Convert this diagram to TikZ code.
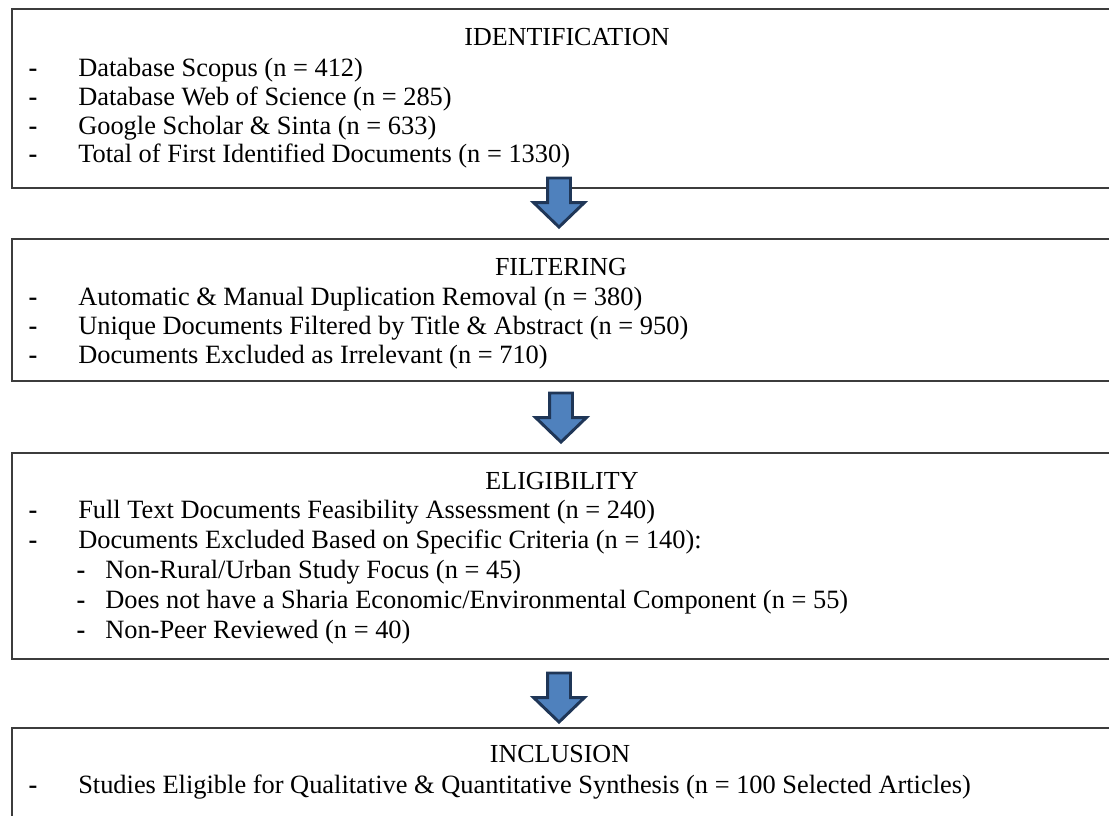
\documentclass[tikz,border=0pt]{standalone}
\usepackage{fontspec}
\setmainfont{Liberation Serif}
\definecolor{arrowblue}{HTML}{4F81BD}
\definecolor{arrownavy}{HTML}{1F3657}
\definecolor{boxline}{HTML}{3C3C3C}
\begin{document}
\begin{tikzpicture}[x=0.75pt,y=-0.75pt,
  stagebox/.style={draw=boxline, line width=1.4pt, fill=white, anchor=north west, inner sep=0pt, minimum width=835.5pt},
  txt/.style={anchor=base west, inner sep=0pt, font=\fontsize{19.8}{23}\selectfont},
  ttl/.style={anchor=base, inner sep=0pt, font=\fontsize{19.5}{23}\selectfont},
  dsh/.style={anchor=base, inner sep=0pt, font=\fontsize{19.8}{23}\selectfont\bfseries},
  blockarrow/.style={fill=arrowblue, draw=arrownavy, line width=2.2pt, line join=miter}]
\useasboundingbox (0,0) rectangle (1109,815);
\clip (0,0) rectangle (1109,815);
% boxes
\node[stagebox, minimum height=134.25pt] (b1) at (11,8) {};
\node[stagebox, minimum height=106.5pt] (b2) at (11,238) {};
\node[stagebox, minimum height=154.5pt] (b3) at (11,452) {};
\node[stagebox, minimum height=77.25pt] (b4) at (11,727) {};
% box 1
\node[ttl] (t1) at (567,45) {IDENTIFICATION};
\node[dsh] (d11) at (33,76) {-}; \node[txt] (l11) at (78,76) {Database Scopus (n = 412)};
\node[dsh] (d12) at (33,105) {-}; \node[txt] (l12) at (78,105) {Database Web of Science (n = 285)};
\node[dsh] (d13) at (33,134) {-}; \node[txt] (l13) at (78,134) {Google Scholar \& Sinta (n = 633)};
\node[dsh] (d14) at (33,162) {-}; \node[txt] (l14) at (78,162) {Total of First Identified Documents (n = 1330)};
% box 2
\node[ttl] (t2) at (561,275) {FILTERING};
\node[dsh] (d21) at (33,305) {-}; \node[txt] (l21) at (78,305) {Automatic \& Manual Duplication Removal (n = 380)};
\node[dsh] (d22) at (33,334) {-}; \node[txt] (l22) at (78,334) {Unique Documents Filtered by Title \& Abstract (n = 950)};
\node[dsh] (d23) at (33,363) {-}; \node[txt] (l23) at (78,363) {Documents Excluded as Irrelevant (n = 710)};
% box 3
\node[ttl] (t3) at (562,489) {ELIGIBILITY};
\node[dsh] (d31) at (33,518) {-}; \node[txt] (l31) at (78,518) {Full Text Documents Feasibility Assessment (n = 240)};
\node[dsh] (d32) at (33,548) {-}; \node[txt] (l32) at (78,548) {Documents Excluded Based on Specific Criteria (n = 140):};
\node[dsh] (d33) at (81,578) {-}; \node[txt] (l33) at (105,578) {Non-Rural/Urban Study Focus (n = 45)};
\node[dsh] (d34) at (81,608) {-}; \node[txt] (l34) at (105,608) {Does not have a Sharia Economic/Environmental Component (n = 55)};
\node[dsh] (d35) at (81,638) {-}; \node[txt] (l35) at (105,638) {Non-Peer Reviewed (n = 40)};
% box 4
\node[ttl] (t4) at (560,762) {INCLUSION};
\node[dsh] (d41) at (33,793) {-}; \node[txt] (l41) at (78,793) {Studies Eligible for Qualitative \& Quantitative Synthesis (n = 100 Selected Articles)};
% arrows
\foreach \cx/\ty/\nm in {559/178/a1, 561/393/a2, 559/673/a3}{
  \coordinate (\nm) at (\cx,\ty);
  \draw[blockarrow] ([xshift=-8.6pt]\nm) -- ([xshift=8.6pt]\nm)
    -- ([xshift=8.6pt,yshift=-18.4pt]\nm) -- ([xshift=19.1pt,yshift=-18.4pt]\nm)
    -- ([yshift=-36.8pt]\nm) -- ([xshift=-19.1pt,yshift=-18.4pt]\nm)
    -- ([xshift=-8.6pt,yshift=-18.4pt]\nm) -- cycle;
}
\end{tikzpicture}
\end{document}
